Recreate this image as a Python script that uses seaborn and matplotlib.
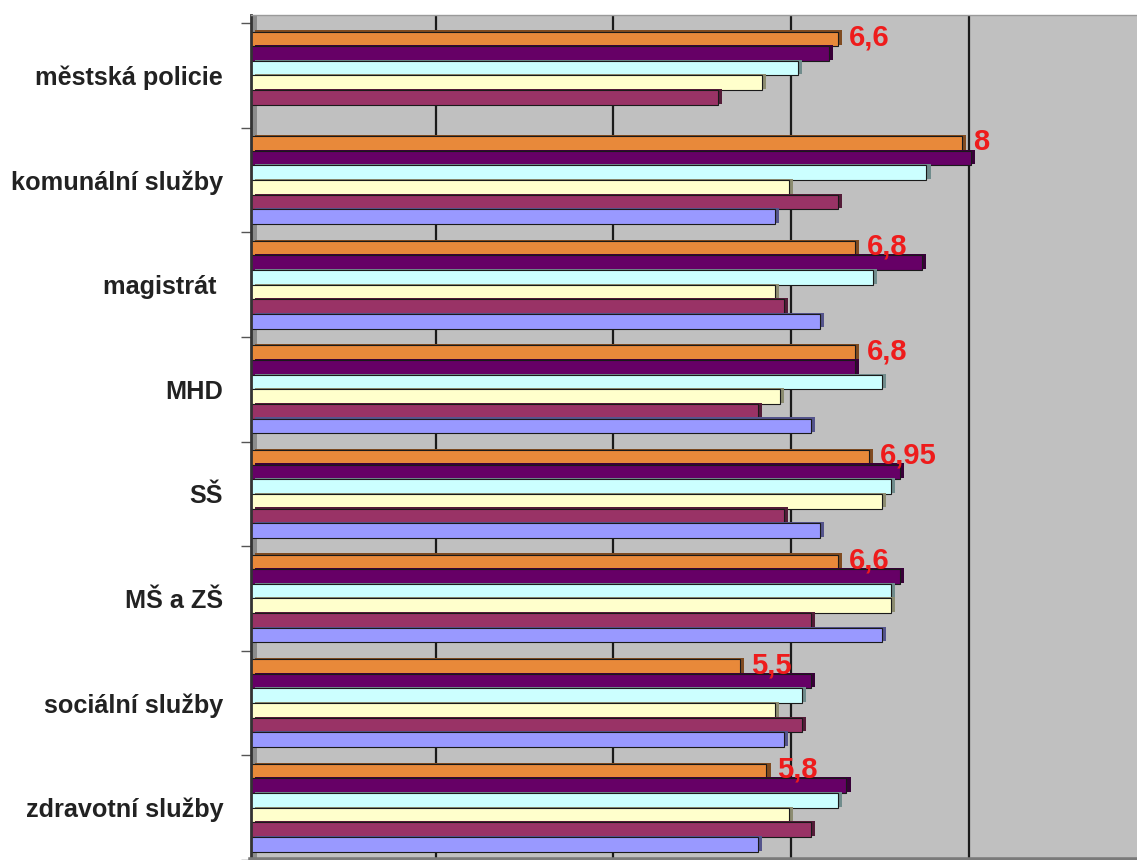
import numpy as np
import pandas as pd
import matplotlib
matplotlib.use("Agg")
import matplotlib.pyplot as plt
import matplotlib.patheffects as pe
import matplotlib.transforms as mtransforms
from matplotlib.colors import to_rgb
import seaborn as sns

# ---------------- data ----------------
categories = ["městská policie", "komunální služby", "magistrát ", "MHD",
              "SŠ", "MŠ a ZŠ", "sociální služby", "zdravotní služby"]
series = ["řada 1", "řada 2", "řada 3", "řada 4", "řada 5", "řada 6"]
s1 = [6.6, 8.0, 6.8, 6.8, 6.95, 6.6, 5.5, 5.8]        # orange (labelled)
s2 = [6.5, 8.1, 7.55, 6.8, 7.3, 7.3, 6.3, 6.7]        # dark purple
s3 = [6.15, 7.6, 7.0, 7.1, 7.2, 7.2, 6.2, 6.6]        # light cyan
s4 = [5.75, 6.05, 5.9, 5.95, 7.1, 7.2, 5.9, 6.05]     # light yellow
s5 = [5.25, 6.6, 6.0, 5.7, 6.0, 6.3, 6.2, 6.3]        # plum
s6 = [np.nan, 5.9, 6.4, 6.3, 6.4, 7.1, 6.0, 5.7]      # periwinkle
colors = ["#E8893A", "#660066", "#CCFFFF", "#FFFFCC", "#993366", "#9999FF"]
grid_values = [2, 4, 6, 8]

rows = []
for name, vals in zip(series, [s1, s2, s3, s4, s5, s6]):
    for cat, v in zip(categories, vals):
        rows.append({"kategorie": cat, "řada": name, "hodnota": v})
df = pd.DataFrame(rows).dropna()

# ---------------- style ----------------
sns.set_theme(style="white")
plt.rcParams["font.family"] = ["Liberation Sans", "DejaVu Sans"]

W, H = 1137, 860
fig = plt.figure(figsize=(W / 100, H / 100), dpi=100)
fig.patch.set_facecolor("white")
ax = fig.add_axes([251 / W, 0, 1 - 251 / W, 1 - 15 / H])
ax.set_facecolor("#C0C0C0")

sns.barplot(data=df, y="kategorie", x="hodnota", hue="řada",
            order=categories, hue_order=series, palette=colors,
            orient="h", width=0.84, dodge=True, saturation=1,
            edgecolor="#1a1a1a", linewidth=0.8, errorbar=None,
            legend=False, ax=ax)

# 3D-like depth via shadow at the bar end
for patch in list(ax.patches):
    fc = np.array(to_rgb(patch.get_facecolor()))
    dark = tuple(fc * 0.55)
    patch.set_path_effects([pe.SimplePatchShadow(offset=(3, 0.8), shadow_rgbFace=dark, alpha=1.0),
                            pe.Normal()])
    patch.set_zorder(2)

# left wall strip
ax.axvspan(0, 0.07, color="#8c8c8c", zorder=0.6, lw=0)

# gridlines (back wall, shifted for depth)
gtrans = mtransforms.offset_copy(ax.get_xaxis_transform(), fig=fig, x=5, y=0, units="points")
for g in grid_values:
    ax.plot([g, g], [0, 1], transform=gtrans, color="#1a1a1a", lw=1.6, zorder=0.8)

# value labels on orange series
for bar, v in zip(ax.containers[0], s1):
    if np.isnan(v):
        continue
    x = bar.get_width()
    y = bar.get_y() + bar.get_height() / 2
    ax.annotate(f"{v:g}".replace(".", ","), xy=(x, y), xytext=(8, 1),
                textcoords="offset points", ha="left", va="center",
                color="#EE1C1C", fontsize=21, fontweight="bold", zorder=5)

ax.set_xlim(0, 9.97)
ax.set_ylim(7.5, -0.578)
ax.set_xticks(grid_values)
ax.set_xticklabels([])
ax.tick_params(axis="x", length=0)
ax.set_yticks(range(len(categories)))
ax.set_yticklabels(categories, fontsize=18.2, fontweight="bold", color="#222222")
ax.tick_params(axis="y", which="major", length=0, pad=20)
ax.set_yticks(np.arange(-0.5, len(categories), 1), minor=True)
ax.tick_params(axis="y", which="minor", length=7, width=1, color="#555555", left=True)
ax.set_xlabel("")
ax.set_ylabel("")

ax.spines["right"].set_visible(False)
ax.spines["left"].set_color("#333333")
ax.spines["left"].set_linewidth(2)
ax.spines["bottom"].set_color("#7a7a7a")
ax.spines["bottom"].set_linewidth(4)
ax.spines["top"].set_color("#9a9a9a")
ax.spines["top"].set_linewidth(1)

fig.savefig("out.png", dpi=100)
